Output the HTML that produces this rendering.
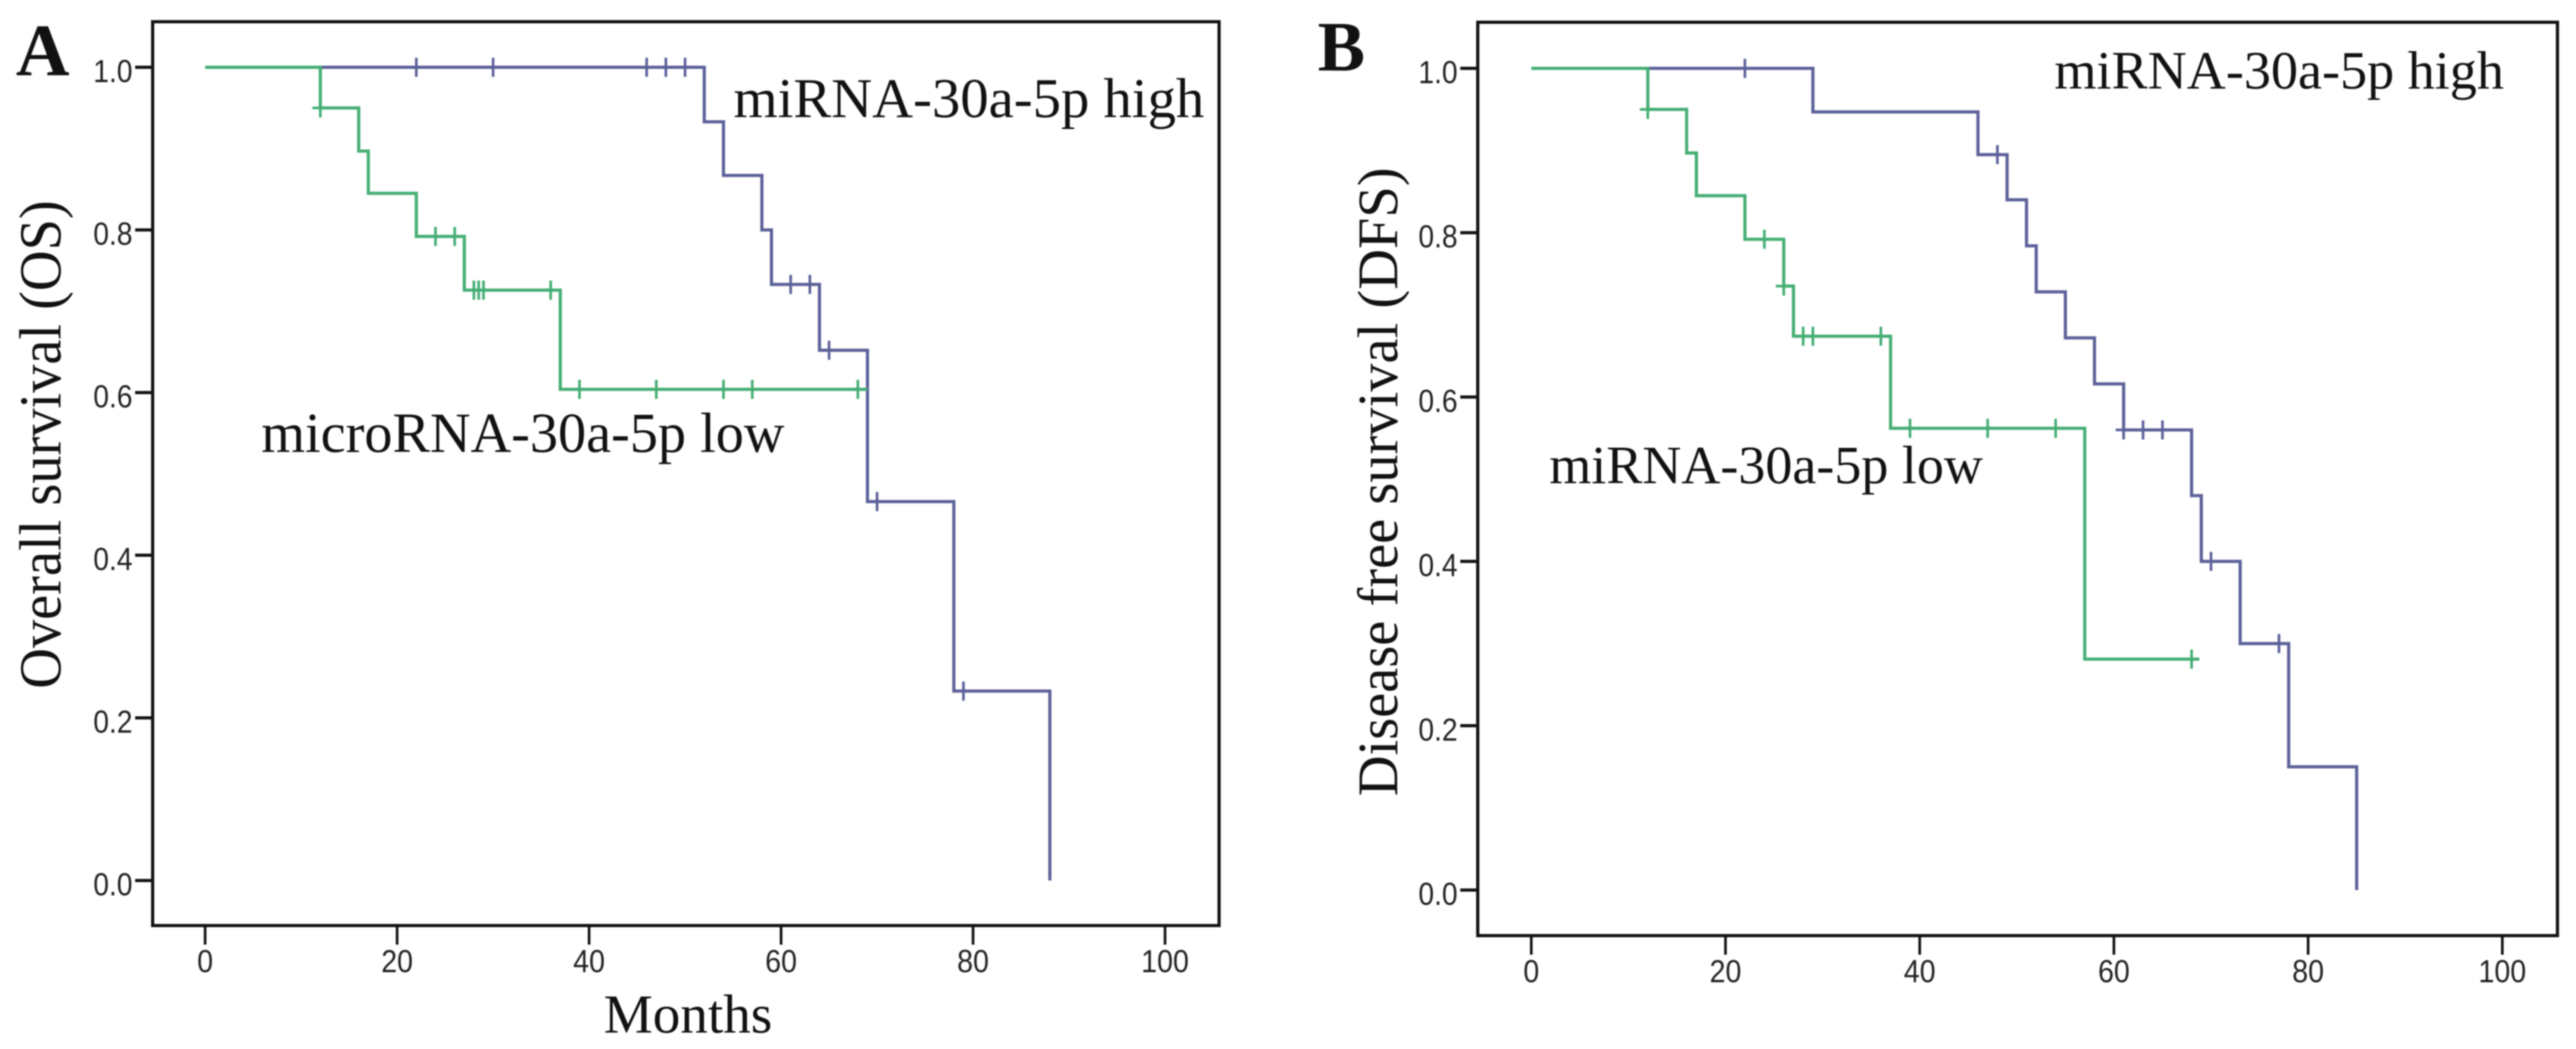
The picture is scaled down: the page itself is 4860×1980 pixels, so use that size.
<!DOCTYPE html>
<html lang="en">
<head>
<meta charset="utf-8">
<title>Kaplan-Meier survival curves for miRNA-30a-5p</title>
<style>
html,body{margin:0;padding:0;background:#fff;width:4860px;height:1980px;overflow:hidden}
svg{display:block;filter:blur(1.2px)}
.serif{font-family:"Liberation Serif",serif;fill:#111}
.tick{font-family:"Liberation Sans",sans-serif;font-size:60px;fill:#222}
</style>
</head>
<body>
<svg id="figure" xmlns="http://www.w3.org/2000/svg" width="4860" height="1980" viewBox="0 0 4860 1980">
  <rect x="0" y="0" width="4860" height="1980" fill="#fff"/>
  <g id="panel-a"></g>
  <g id="panel-b"></g>
  <text class="serif" x="30" y="142" font-size="140" font-weight="bold">A</text>
  <text class="serif" x="2486" y="133" font-size="134" font-weight="bold">B</text>
  <text class="serif" transform="translate(114,1300) rotate(-90)" font-size="112" textLength="922" lengthAdjust="spacingAndGlyphs">Overall survival (OS)</text>
  <text class="serif" transform="translate(2636,1503) rotate(-90)" font-size="108" textLength="1187" lengthAdjust="spacingAndGlyphs">Disease free survival (DFS)</text>
  <text class="serif" x="1139" y="1949" font-size="104" textLength="318" lengthAdjust="spacingAndGlyphs">Months</text>
  <text class="serif" x="1384" y="221" font-size="106" textLength="888" lengthAdjust="spacingAndGlyphs">miRNA-30a-5p high</text>
  <text class="serif" x="493" y="853" font-size="107" textLength="987" lengthAdjust="spacingAndGlyphs">microRNA-30a-5p low</text>
  <text class="serif" x="3876" y="167" font-size="102" textLength="848" lengthAdjust="spacingAndGlyphs">miRNA-30a-5p high</text>
  <text class="serif" x="2923" y="912" font-size="102" textLength="818" lengthAdjust="spacingAndGlyphs">miRNA-30a-5p low</text>
</svg>
<script>
// Axis tick labels
const xTickValues = [0, 20, 40, 60, 80, 100];
const yTickValues = [0.0, 0.2, 0.4, 0.6, 0.8, 1.0];

// Panel A - overall survival, high expression
const osHighEventMonths = [52, 54, 58, 59, 64, 69, 78, 88];
const osHighSurvival = [0.933, 0.867, 0.80, 0.733, 0.652, 0.466, 0.233, 0.0];
const osHighCensorMonths = [22, 30, 46, 48, 50, 61, 63, 65, 70, 79];

// Panel A - overall survival, low expression
const osLowEventMonths = [12, 16, 17, 22, 27, 37];
const osLowSurvival = [0.95, 0.897, 0.845, 0.792, 0.726, 0.604];
const osLowCensorMonths = [12, 24, 26, 28, 28.5, 29, 36, 39, 47, 54, 57, 68];
const osLowLastMonth = 69;

// Panel B - disease free survival, high expression
const dfsHighEventMonths = [29, 46, 49, 51, 52, 55, 58, 61, 68, 69, 73, 78, 85];
const dfsHighSurvival = [0.947, 0.895, 0.84, 0.784, 0.728, 0.672, 0.616, 0.56, 0.48, 0.40, 0.30, 0.15, 0.0];
const dfsHighCensorMonths = [22, 48, 61, 63, 65, 70, 77];

// Panel B - disease free survival, low expression
const dfsLowEventMonths = [12, 16, 17, 22, 26, 27, 37, 57];
const dfsLowSurvival = [0.95, 0.897, 0.845, 0.792, 0.735, 0.674, 0.562, 0.281];
const dfsLowCensorMonths = [12, 24, 26, 28, 29, 36, 39, 47, 54, 68];
const dfsLowLastMonth = 68.7;

const SVG_NS = 'http://www.w3.org/2000/svg';

function make(parent, tag, attrs) {
  const el = document.createElementNS(SVG_NS, tag);
  for (const key in attrs) el.setAttribute(key, attrs[key]);
  parent.appendChild(el);
  return el;
}

function survivalAt(months, survival, t) {
  let s = 1;
  for (let i = 0; i < months.length; i++) {
    if (months[i] <= t) s = survival[i];
  }
  return s;
}

// Tick text in the source is narrower than its height suggests.
function tickTextWidth(text) {
  let w = 0;
  for (const ch of text) w += ch === '.' ? 14 : 30;
  return w;
}

function drawAxes(group, box, x, y, prefix) {
  const frame = make(group, 'rect', {x: box.left, y: box.top, width: box.right - box.left, height: box.bottom - box.top, fill: 'none', stroke: '#111', 'stroke-width': 6});
  
  
  xTickValues.forEach(function (v) {
    const mark = make(group, 'line', {x1: x(v), x2: x(v), y1: box.bottom, y2: box.bottom + 36, stroke: '#111', 'stroke-width': 5});
    
    
    const text = String(v);
    const label = make(group, 'text', {x: x(v), y: box.bottom + 88, 'text-anchor': 'middle', 'class': 'tick', textLength: tickTextWidth(text), lengthAdjust: 'spacingAndGlyphs'});
    
    
    label.textContent = text;
  });
  yTickValues.forEach(function (v) {
    const mark = make(group, 'line', {x1: box.left - 33, x2: box.left, y1: y(v), y2: y(v), stroke: '#111', 'stroke-width': 6});
    
    
    const text = v.toFixed(1);
    const label = make(group, 'text', {x: box.left - 38, y: y(v) + 28, 'text-anchor': 'end', 'class': 'tick', textLength: tickTextWidth(text), lengthAdjust: 'spacingAndGlyphs'});
    
    
    label.textContent = text;
  });
}

function drawCurve(group, x, y, months, survival, censors, lastMonth, color, name) {
  let d = 'M' + x(0) + ' ' + y(1);
  let current = 1;
  months.forEach(function (m, i) {
    d += ' L' + x(m) + ' ' + y(current) + ' L' + x(m) + ' ' + y(survival[i]);
    current = survival[i];
  });
  if (lastMonth !== null) d += ' L' + x(lastMonth) + ' ' + y(current);
  const path = make(group, 'path', {d: d, fill: 'none', stroke: color, 'stroke-width': 6, 'stroke-linejoin': 'miter'});
  
  
  censors.forEach(function (c) {
    const s = survivalAt(months, survival, c);
    const cx = x(c);
    const cy = y(s);
    const mark = make(group, 'path', {d: 'M' + cx + ' ' + (cy - 18) + ' L' + cx + ' ' + (cy + 18) + ' M' + (cx - 15) + ' ' + cy + ' L' + (cx + 15) + ' ' + cy, fill: 'none', stroke: color, 'stroke-width': 5});
    
    
  });
}

function drawPanel(group, box, prefix, curves) {
  const x = function (v) { return box.x0 + (box.x100 - box.x0) * v / 100; };
  const y = function (v) { return box.y0 + (box.y1 - box.y0) * v; };
  drawAxes(group, box, x, y, prefix);
  curves.forEach(function (c) {
    drawCurve(group, x, y, c.months, c.survival, c.censors, c.last, c.color, c.name);
  });
}

const BLUE = '#5c6199';
const GREEN = '#45ae74';

drawPanel(document.getElementById('panel-a'),
  {left: 288, right: 2300, top: 41, bottom: 1747, x0: 387, x100: 2198, y0: 1662, y1: 127},
  'panel-a',
  [
    {months: osHighEventMonths, survival: osHighSurvival, censors: osHighCensorMonths, last: null, color: BLUE, name: 'os-high'},
    {months: osLowEventMonths, survival: osLowSurvival, censors: osLowCensorMonths, last: osLowLastMonth, color: GREEN, name: 'os-low'}
  ]);

drawPanel(document.getElementById('panel-b'),
  {left: 2788, right: 4825, top: 42, bottom: 1766, x0: 2889, x100: 4721, y0: 1680, y1: 129},
  'panel-b',
  [
    {months: dfsHighEventMonths, survival: dfsHighSurvival, censors: dfsHighCensorMonths, last: null, color: BLUE, name: 'dfs-high'},
    {months: dfsLowEventMonths, survival: dfsLowSurvival, censors: dfsLowCensorMonths, last: dfsLowLastMonth, color: GREEN, name: 'dfs-low'}
  ]);
</script>
</body>
</html>
